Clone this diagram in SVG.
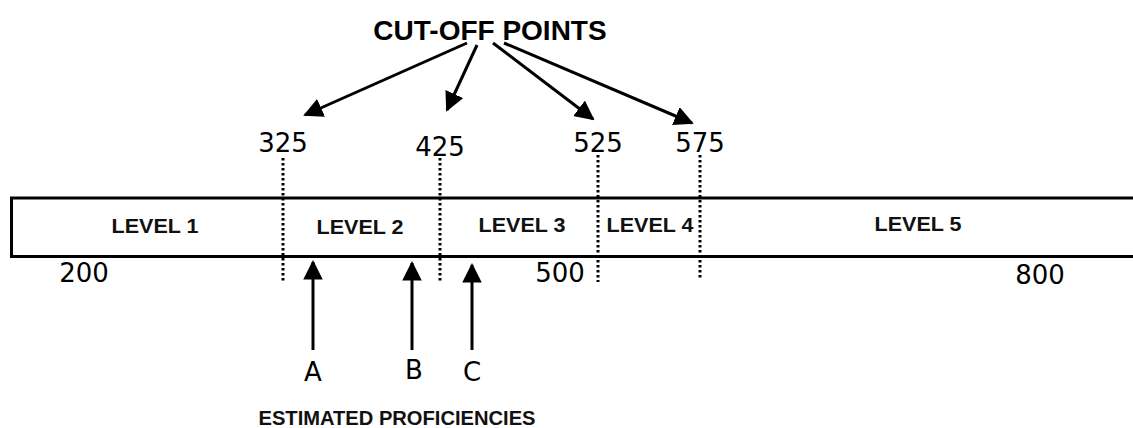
<svg xmlns="http://www.w3.org/2000/svg" width="1133" height="428" viewBox="0 0 1133 428">
<defs>
<marker id="ah" viewBox="0 0 10 10" refX="9" refY="5" markerWidth="6.5" markerHeight="6.5" markerUnits="strokeWidth" orient="auto">
<path d="M0,0 L10,5 L0,10 z" fill="#000"/>
</marker>
<style>
.lvl{font-family:"Liberation Sans",Arial,sans-serif;font-weight:bold;font-size:19.5px;fill:#111;text-anchor:middle}
.num{font-family:"DejaVu Sans",sans-serif;font-size:26px;fill:#000;text-anchor:middle}
.title{font-family:"Liberation Sans",Arial,sans-serif;font-weight:bold;font-size:28px;fill:#000;text-anchor:middle}
.sub{font-family:"Liberation Sans",Arial,sans-serif;font-weight:bold;font-size:19.5px;fill:#111;text-anchor:middle}
.arr{stroke:#000;stroke-width:3;fill:none;marker-end:url(#ah)}
.dot{stroke:#000;stroke-width:3;stroke-dasharray:2.5 2.5;fill:none}
</style>
</defs>
<rect width="1133" height="428" fill="#fff"/>
<g id="bar">
<path d="M1140,198 H11.5 V256.5 H1140" fill="none" stroke="#000" stroke-width="3"/>
</g>
<g id="cutlines">
<line class="dot" x1="283" y1="158" x2="283" y2="282"/>
<line class="dot" x1="440" y1="158" x2="440" y2="282"/>
<line class="dot" x1="598" y1="155" x2="598" y2="282"/>
<line class="dot" x1="700" y1="155" x2="700" y2="278"/>
</g>
<g id="level1"><text class="lvl" x="155" y="233" textLength="87" lengthAdjust="spacingAndGlyphs">LEVEL 1</text></g>
<g id="level2"><text class="lvl" x="360" y="234" textLength="87" lengthAdjust="spacingAndGlyphs">LEVEL 2</text></g>
<g id="level3"><text class="lvl" x="522" y="232" textLength="87" lengthAdjust="spacingAndGlyphs">LEVEL 3</text></g>
<g id="level4"><text class="lvl" x="650" y="232" textLength="87" lengthAdjust="spacingAndGlyphs">LEVEL 4</text></g>
<g id="level5"><text class="lvl" x="918" y="231" textLength="87" lengthAdjust="spacingAndGlyphs">LEVEL 5</text></g>
<g id="title"><text class="title" x="490" y="40">CUT-OFF POINTS</text></g>
<g id="n325"><text class="num" x="283" y="152">325</text></g>
<g id="n425"><text class="num" x="440" y="156">425</text></g>
<g id="n525"><text class="num" x="598" y="152">525</text></g>
<g id="n575"><text class="num" x="700" y="152">575</text></g>
<g id="n200"><text class="num" x="84" y="282">200</text></g>
<g id="n500"><text class="num" x="560" y="282">500</text></g>
<g id="n800"><text class="num" x="1040" y="284">800</text></g>
<g id="labA"><text class="num" x="313" y="381">A</text></g>
<g id="labB"><text class="num" x="414" y="379">B</text></g>
<g id="labC"><text class="num" x="472" y="381">C</text></g>
<g id="subtitle"><text class="sub" x="397" y="425" textLength="277" lengthAdjust="spacingAndGlyphs">ESTIMATED PROFICIENCIES</text></g>
<g id="connectors">
<line class="arr" x1="467" y1="43" x2="305" y2="115"/>
<line class="arr" x1="477" y1="45" x2="447" y2="110"/>
<line class="arr" x1="493" y1="43" x2="593" y2="119"/>
<line class="arr" x1="504" y1="43" x2="692" y2="123"/>
<line class="arr" x1="313" y1="350" x2="313" y2="262"/>
<line class="arr" x1="412" y1="350" x2="412" y2="263"/>
<line class="arr" x1="472" y1="350" x2="472" y2="265"/>
</g>
</svg>
